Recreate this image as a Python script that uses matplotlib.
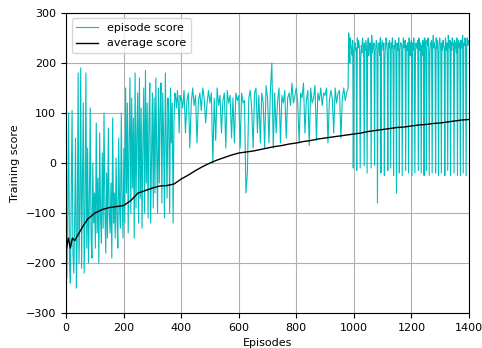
import numpy as np
import matplotlib
matplotlib.use("Agg")
import matplotlib.pyplot as plt

plt.rcParams['font.size'] = 8

# episode scores, in three stretches with their own sampling step
# episodes 0 - 399, every 3 episodes
scores_early = [
    -160, -230, -90, 100, -200, -240, -60, 105, -180, -220, -120, 50, -250, -140, 180, -200, -90,
    190, -210, -50, 120, -220, -100, 180, -170, 30, -200, -80, 110, -150, -190, 0, -120, -60,
    -170, 80, -140, -30, -200, 60, -110, -160, 20, -130, 100, -90, -180, -20, -150, 70, -100,
    -140, -40, -190, 90, -120, -60, -150, 10, -110, -170, 50, -90, -130, 100, -80, -150, 30,
    -120, 150, -60, 120, -140, 40, 170, -100, 130, -50, 90, -150, 180, -90, 60, 140, -120,
    170, -70, 110, -130, 40, 150, -100, 185, -40, 120, -110, 80, 160, -120, 10, 140, -90,
    130, -60, 170, 20, -100, 150, -40, 110, 160, -80, 140, 50, -110, 180, 60, -70, 130,
    90, -100, 150, 40, 120, -120, 80, 140, 130, 110, 145, 120, 60, 135, 125,
]
# episodes 400 - 975, every 5 episodes
scores_middle = [
    130, 110, 145, 60, 125, 140, 30, 120, 150, 115, 135, 40, 125, 140, 105, 150, 130, 80, 120, 145,
    120, 140, 0, 130, 45, 150, 115, 135, 60, 125, 140, 30, 145, 120, 135, 50, 130, 40, 140, 125,
    135, 30, 140, 120, 125, -60, -20, 130, 145, 110, 30, 140, 150, 60, 135, 40, 140, 120, 30, 155,
    130, 40, 145, 200, 30, 140, 60, 125, 150, 40, 135, 120, 145, 50, 130, 140, 115, 160, 120, 135,
    150, 120, 40, 140, 130, 160, 60, 125, 145, 35, 150, 120, 130, 155, 45, 140, 125, 150, 115, 140,
    135, 150, 40, 125, 145, 130, 60, 150, 120, 140, 145, 50, 130, 150, 125, 140,
]
# episodes 980 - 1398, every 2 episodes
scores_late = [
    150, 260, 240, 200, 250, 235, 230, 215, 245, -10, 220, 235, 240, 225, 230,
    -15, 250, 230, 245, 240, 225, -10, 210, 235, 220, 250, 240, 230, -5, 240,
    225, 245, 225, -20, 235, 250, 215, 240, 230, 240, -10, 255, 220, 235, 230,
    240, -5, 225, 230, 245, 240, -80, 220, 240, 235, 215, 250, -20, 230, 245,
    235, 225, 240, -25, 210, 235, 250, 240, 220, -15, 240, 230, 245, 225, -10,
    240, 230, 250, 215, -25, 235, 230, 245, 220, -60, 240, 230, 225, 250, -20,
    225, 240, 240, 235, -25, 220, 250, 230, 235, 245, -15, 235, 225, 240, 240,
    -20, 250, 230, 215, 240, 245, -25, 240, 225, 250, 235, -20, 220, 240, 230,
    230, 245, -15, 250, 225, 240, 240, -20, 235, 215, 245, 230, -25, 250, 240,
    225, -15, 245, 235, 250, 230, -25, 220, 240, 235, 245, -20, 235, 255, 230,
    240, 225, -20, 250, 230, 245, 220, -25, 235, 250, 240, 225, -20, 240, 225,
    245, 235, 230, -25, 250, 240, 225, 240, -15, 255, 235, 230, 245, -25, 240,
    225, 250, 235, 240, -20, 245, 230, 240, 220, 250, -25, 235, 245, 230, 240,
    -25, 245, 230, 240, 255, -20, 240, 235, 250, 245, -25, 230, 250, 235, 245,
]

# running average score
avg_episodes = [0, 8, 15, 22, 30, 40, 50, 60, 75, 100, 125, 150, 175, 200, 225, 250, 275, 300,
                325, 350, 375, 400, 425, 450, 475, 500, 525, 550, 575, 600, 625, 650, 675, 700,
                725, 750, 775, 800, 825, 850, 875, 900, 925, 950, 975, 1000, 1025, 1050, 1075,
                1100, 1125, 1150, 1175, 1200, 1225, 1250, 1275, 1300, 1325, 1350, 1375, 1400]
avg_scores = [-175, -150, -170, -150, -155, -145, -135, -125, -112, -100, -93, -89, -87, -85, -75,
              -60, -55, -50, -46, -45, -42, -32, -24, -15, -7, 0, 6, 11, 16, 20, 22, 24, 27, 30,
              33, 35, 38, 40, 43, 45, 48, 50, 52, 54, 56, 58, 60, 63, 65, 67, 69, 71, 72, 74,
              76, 77, 79, 80, 82, 84, 86, 87]

episodes = np.concatenate([
    np.arange(len(scores_early)) * 3,
    400 + np.arange(len(scores_middle)) * 5,
    980 + np.arange(len(scores_late)) * 2,
])
episode_scores = scores_early + scores_middle + scores_late

fig = plt.figure(figsize=(4.82, 3.48), dpi=100)
ax = fig.add_axes([0.137, 0.10, 0.836, 0.863])

ax.plot(episodes, episode_scores, color='c', linewidth=0.8, label='episode score')
ax.plot(avg_episodes, avg_scores, color='k', linewidth=1.0, label='average score')

ax.set_xlim(0, 1400)
ax.set_ylim(-300, 300)
ax.set_xlabel("Episodes")
ax.set_ylabel("Training score")
ax.grid(True)
ax.legend(loc='upper left')

fig.savefig("out.png", dpi=100)
